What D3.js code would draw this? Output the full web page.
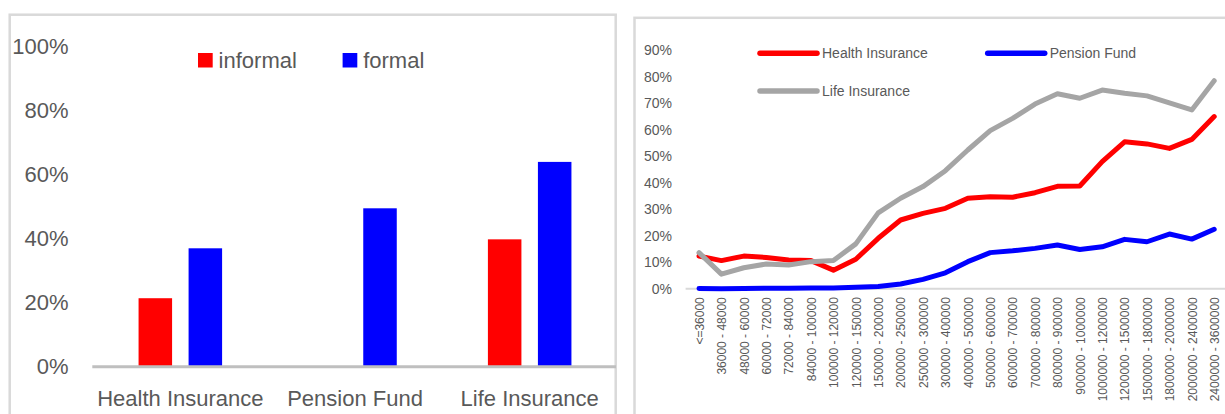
<!DOCTYPE html>
<html>
<head>
<meta charset="utf-8">
<script src="https://cdn.jsdelivr.net/npm/d3@7"></script>
<style>
  html, body { margin: 0; padding: 0; background: #fff; }
  svg { display: block; font-family: "Liberation Sans", Arial, sans-serif; }
</style>
</head>
<body>
<svg id="chart" width="1225" height="414"></svg>
<script>
// ---- Coverage by employment type (left panel) ----
const barCategories = ["Health Insurance", "Pension Fund", "Life Insurance"];
const barSeries = ["informal", "formal"];
const informalValues = [21.4, 0, 39.8];
const formalValues = [37.0, 49.5, 64.0];
const barTicks = [0, 20, 40, 60, 80, 100];

// ---- Coverage by income band (right panel) ----
const incomeBands = [
  "<=36000", "36000 - 48000", "48000 - 60000", "60000 - 72000", "72000 - 84000",
  "84000 - 100000", "100000 - 120000", "120000 - 150000", "150000 - 200000",
  "200000 - 250000", "250000 - 300000", "300000 - 400000", "400000 - 500000",
  "500000 - 600000", "600000 - 700000", "700000 - 800000", "800000 - 900000",
  "900000 - 1000000", "1000000 - 1200000", "1200000 - 1500000", "1500000 - 1800000",
  "1800000 - 2000000", "2000000 - 2400000", "2400000 - 3600000"
];
const healthInsurance = [12.3, 10.6, 12.3, 11.8, 10.8, 10.6, 7.0, 11.1, 19.0, 25.9, 28.4, 30.3,
  34.1, 34.7, 34.5, 36.2, 38.6, 38.7, 47.9, 55.4, 54.6, 52.9, 56.3, 64.9];
const pensionFund = [0.1, 0.0, 0.1, 0.2, 0.2, 0.3, 0.3, 0.5, 0.8, 1.8, 3.5, 6.0,
  10.2, 13.6, 14.3, 15.2, 16.5, 14.8, 15.8, 18.6, 17.7, 20.6, 18.7, 22.4];
const lifeInsurance = [13.6, 5.5, 7.9, 9.3, 8.9, 10.2, 10.6, 16.9, 28.6, 34.1, 38.5, 44.5,
  52.3, 59.6, 64.2, 69.6, 73.5, 71.8, 74.9, 73.7, 72.7, 70.1, 67.4, 78.4];
const lineTicks = [0, 10, 20, 30, 40, 50, 60, 70, 80, 90];
const lineSeries = ["Health Insurance", "Pension Fund", "Life Insurance"];

const TEXT = "#595959";
const BORDER = "#d9d9d9";
const colorBar = { informal: "#ff0000", formal: "#0000ff" };
const colorLine = { "Health Insurance": "#ff0000", "Pension Fund": "#0000ff", "Life Insurance": "#a5a5a5" };

const svg = d3.select("#chart");

// panel frames
svg.append("rect").attr("x", 9.7).attr("y", 14.7).attr("width", 606).attr("height", 430)
  .attr("fill", "none").attr("stroke", BORDER).attr("stroke-width", 2.5);
svg.append("rect").attr("x", 634.5).attr("y", 17.8).attr("width", 640).attr("height", 430)
  .attr("fill", "none").attr("stroke", BORDER).attr("stroke-width", 2.5);

// ================= Left: grouped bars =================
const left = svg.append("g");
const yL = d3.scaleLinear().domain([0, 100]).range([366.7, 46.7]);
const x0 = d3.scaleBand().domain(barCategories).range([93, 617]).padding(0);
const x1 = d3.scaleBand().domain(barSeries).range([0, x0.bandwidth()])
  .paddingInner(0.33).paddingOuter(0.911);

const barRows = barCategories.map((c, i) => ({
  category: c,
  values: [{ key: "informal", v: informalValues[i] }, { key: "formal", v: formalValues[i] }]
}));

const groups = left.selectAll("g.grp").data(barRows).join("g")
  .attr("class", "grp").attr("transform", d => `translate(${x0(d.category)},0)`);
groups.selectAll("rect").data(d => d.values.filter(e => e.v > 0)).join("rect")
  .attr("x", d => x1(d.key)).attr("width", x1.bandwidth())
  .attr("y", d => yL(d.v)).attr("height", d => yL(0) - yL(d.v))
  .attr("fill", d => colorBar[d.key]);

// y axis labels
const yAxisL = left.append("g").attr("transform", "translate(68.5,0)")
  .call(d3.axisLeft(yL).tickValues(barTicks).tickFormat(d => d + "%").tickSize(0).tickPadding(0));
yAxisL.select(".domain").remove();
yAxisL.selectAll("text").attr("font-size", 22).attr("fill", TEXT)
  .attr("font-family", "Liberation Sans, Arial, sans-serif");

// baseline
left.append("line").attr("x1", 92.3).attr("x2", 616).attr("y1", yL(0)).attr("y2", yL(0))
  .attr("stroke", "#bfbfbf").attr("stroke-width", 3);

// category labels
const xAxisL = left.append("g").attr("transform", `translate(0,${yL(0)})`)
  .call(d3.axisBottom(x0).tickSize(0).tickPadding(23.7));
xAxisL.select(".domain").remove();
xAxisL.selectAll("text").attr("font-size", 22).attr("fill", TEXT)
  .attr("font-family", "Liberation Sans, Arial, sans-serif");

// legend
const legL = left.append("g");
const legPos = { informal: 198, formal: 342.6 };
barSeries.forEach(s => {
  legL.append("rect").attr("x", legPos[s]).attr("y", 53).attr("width", 14.7).attr("height", 14.5)
    .attr("fill", colorBar[s]);
  legL.append("text").attr("x", legPos[s] + 20.6).attr("y", 67.5).attr("font-size", 22)
    .attr("fill", TEXT).text(s);
});

// ================= Right: lines by income band =================
const right = svg.append("g");
const xR = d3.scalePoint().domain(incomeBands).range([699, 1214.2]);
const yR = d3.scaleLinear().domain([0, 90]).range([288.7, 50]);

const yAxisR = right.append("g").attr("transform", "translate(672,0)")
  .call(d3.axisLeft(yR).tickValues(lineTicks).tickFormat(d => d + "%").tickSize(0).tickPadding(0));
yAxisR.select(".domain").remove();
yAxisR.selectAll("text").attr("font-size", 14).attr("fill", TEXT)
  .attr("font-family", "Liberation Sans, Arial, sans-serif");

right.append("line").attr("x1", 685.6).attr("x2", 1225).attr("y1", yR(0)).attr("y2", yR(0))
  .attr("stroke", BORDER).attr("stroke-width", 2);

const xAxisR = right.append("g").attr("transform", `translate(0,${yR(0)})`)
  .call(d3.axisBottom(xR).tickSize(0));
xAxisR.select(".domain").remove();
xAxisR.selectAll("text")
  .attr("font-size", 12).attr("fill", TEXT)
  .attr("font-family", "Liberation Sans, Arial, sans-serif")
  .attr("transform", "rotate(-90)")
  .attr("text-anchor", "end")
  .attr("x", -8.5).attr("y", 0).attr("dy", "0.35em");

const seriesData = {
  "Health Insurance": healthInsurance,
  "Pension Fund": pensionFund,
  "Life Insurance": lifeInsurance
};
const line = d3.line().x((d, i) => xR(incomeBands[i])).y(d => yR(d));

// draw order: health, pension, then life on top
["Health Insurance", "Pension Fund", "Life Insurance"].forEach(name => {
  right.append("path").datum(seriesData[name])
    .attr("d", line).attr("fill", "none")
    .attr("stroke", colorLine[name]).attr("stroke-width", 5)
    .attr("stroke-linejoin", "round").attr("stroke-linecap", "round");
});

// legend
const legR = [
  { name: "Health Insurance", x: 760, y: 53.3 },
  { name: "Pension Fund", x: 987.7, y: 53.3 },
  { name: "Life Insurance", x: 760, y: 91 }
];
legR.forEach(l => {
  right.append("line").attr("x1", l.x).attr("x2", l.x + 57).attr("y1", l.y).attr("y2", l.y)
    .attr("stroke", colorLine[l.name]).attr("stroke-width", 5.5).attr("stroke-linecap", "round");
  right.append("text").attr("x", l.x + 62).attr("y", l.y).attr("dy", "0.35em")
    .attr("font-size", 14).attr("fill", TEXT).text(l.name);
});
</script>
</body>
</html>
